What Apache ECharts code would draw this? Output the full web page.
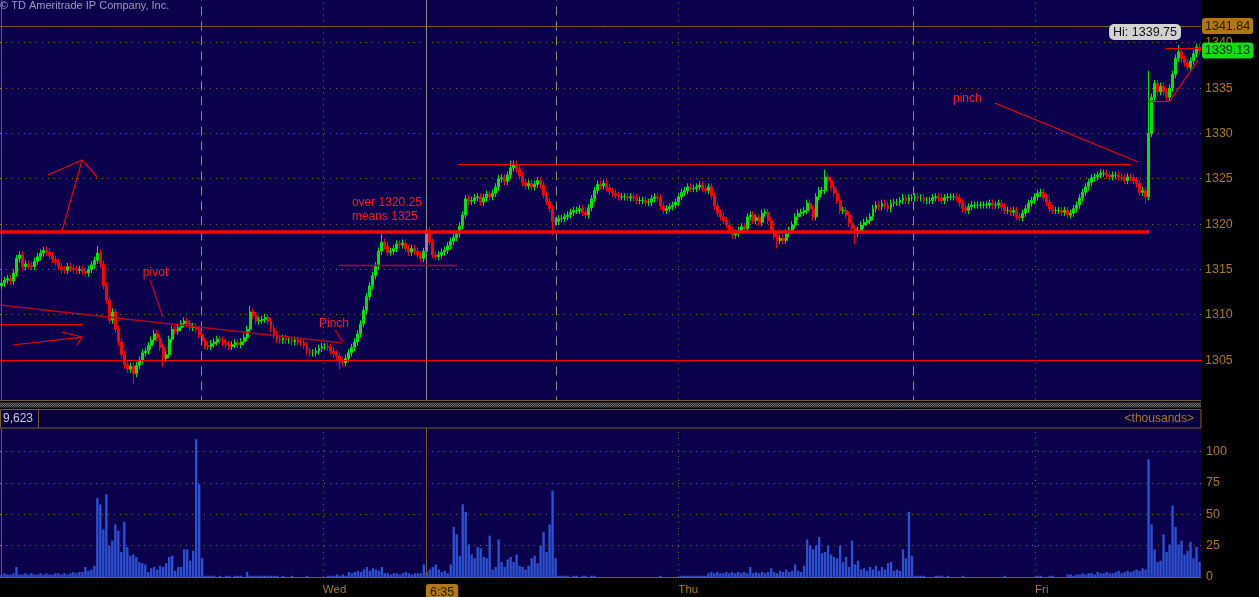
<!DOCTYPE html>
<html>
<head>
<meta charset="UTF-8">
<title>ES futures - 3 day</title>
<script src="https://cdn.jsdelivr.net/npm/echarts@6/dist/echarts.min.js"></script>
<style>
  html, body { margin: 0; padding: 0; background: #000; }
  #chart { width: 1259px; height: 597px; }
</style>
</head>
<body>
<div id="chart"></div>
<script>
// closing price of each bar, left to right
const closes = [
  1313.5,1313.8,1314.0,1313.7,1314.6,1316.2,1316.6,1315.3,1315.6,1315.4,
  1315.3,1315.9,1316.4,1316.8,1317.1,1316.9,1316.5,1316.1,1315.8,1315.3,
  1315.0,1314.9,1315.3,1315.1,1315.0,1314.9,1315.0,1314.8,1314.6,1315.0,
  1315.5,1316.0,1316.8,1315.6,1313.2,1311.6,1309.4,1310.3,1308.4,1307.0,
  1305.6,1304.5,1304.0,1304.3,1303.5,1304.4,1305.0,1305.8,1306.0,1306.6,
  1307.2,1307.9,1307.4,1306.4,1305.2,1305.6,1307.3,1308.4,1308.2,1308.6,
  1309.0,1309.3,1309.0,1308.6,1308.7,1308.4,1307.8,1307.1,1306.6,1306.5,
  1306.8,1307.0,1307.3,1307.2,1306.9,1306.7,1306.5,1306.7,1306.9,1306.7,
  1307.0,1307.5,1308.4,1310.3,1309.9,1309.3,1309.4,1309.5,1309.7,1309.3,
  1308.5,1307.8,1307.3,1307.2,1307.4,1307.2,1307.2,1307.0,1307.2,1307.0,
  1306.9,1306.6,1306.0,1305.8,1305.8,1306.0,1306.3,1306.5,1306.5,1306.4,
  1306.0,1305.7,1305.4,1304.8,1304.7,1305.2,1305.8,1306.4,1307.0,1307.9,
  1309.0,1310.5,1312.0,1313.2,1314.3,1315.4,1317.0,1318.0,1317.6,1316.9,
  1317.0,1317.3,1317.8,1317.7,1317.9,1317.3,1316.9,1317.3,1317.0,1316.6,
  1316.2,1317.0,1319.3,1318.0,1316.6,1316.4,1316.6,1316.9,1317.1,1317.6,
  1318.1,1318.5,1318.9,1319.8,1321.0,1322.8,1322.5,1322.6,1322.9,1323.0,
  1322.4,1322.9,1323.3,1323.0,1323.4,1324.1,1325.0,1325.1,1324.7,1325.4,
  1326.2,1326.6,1326.1,1325.3,1324.6,1324.2,1324.5,1324.1,1324.4,1324.8,
  1324.3,1323.2,1322.5,1321.7,1320.3,1320.3,1320.6,1320.6,1320.8,1321.0,
  1321.3,1321.5,1321.5,1321.7,1321.3,1321.0,1321.8,1322.8,1323.7,1324.4,
  1324.2,1324.5,1324.0,1323.6,1323.4,1323.2,1323.0,1323.0,1323.0,1322.9,
  1323.0,1322.9,1322.6,1322.6,1322.6,1322.4,1322.4,1322.8,1323.0,1322.9,
  1322.0,1321.5,1321.7,1321.9,1322.1,1322.4,1323.0,1323.5,1323.7,1324.1,
  1323.9,1323.9,1324.1,1324.3,1323.9,1323.7,1324.1,1323.1,1322.0,1321.2,
  1320.8,1320.4,1319.9,1319.3,1318.8,1319.0,1319.3,1319.7,1319.5,1320.8,
  1321.0,1320.4,1320.7,1320.2,1321.2,1321.3,1320.4,1319.3,1318.6,1318.2,
  1318.4,1318.2,1319.0,1319.3,1319.9,1320.8,1321.2,1321.3,1321.5,1322.3,
  1321.7,1320.8,1323.0,1323.7,1323.7,1325.2,1324.8,1324.1,1323.4,1322.6,
  1321.5,1321.5,1321.0,1320.1,1319.5,1319.0,1319.3,1319.9,1320.2,1320.4,
  1320.8,1321.7,1322.1,1321.9,1322.3,1322.1,1321.7,1322.3,1322.4,1322.4,
  1322.6,1322.9,1322.6,1322.9,1322.9,1323.0,1322.9,1322.9,1322.6,1322.6,
  1322.6,1322.9,1323.0,1322.9,1322.6,1322.9,1323.0,1323.0,1323.0,1322.9,
  1322.3,1321.7,1321.5,1321.9,1322.1,1322.1,1322.1,1322.1,1322.1,1322.1,
  1322.3,1322.1,1322.1,1322.3,1321.9,1321.5,1321.5,1321.3,1321.5,1320.8,
  1320.7,1321.2,1321.7,1322.3,1322.6,1323.0,1323.4,1323.5,1322.9,1322.4,
  1321.7,1321.5,1321.5,1321.5,1321.3,1321.5,1321.0,1321.2,1321.7,1322.1,
  1322.9,1323.5,1324.1,1324.6,1325.1,1325.2,1325.4,1325.6,1325.6,1325.4,
  1325.2,1325.4,1325.4,1325.2,1325.1,1324.8,1325.2,1325.1,1324.8,1324.5,
  1323.5,1323.7,1323.0,1330.0,1334.0,1335.5,1334.6,1335.2,1334.6,1334.0,
  1335.0,1336.5,1338.3,1339.0,1338.2,1337.8,1337.3,1338.0,1338.8,1339.5,
  1339.13
];
const firstOpen = 1313.2;
// bars whose wick reaches well past the body: [bar, price]
const spikeHighs = [[32,1317.6],[83,1311.0],[127,1318.9],[142,1320.4],[170,1327.0],[275,1326.0],[383,1336.9],[393,1339.75]];
const spikeLows = [[44,1302.4],[54,1304.3],[113,1304.0],[184,1318.8],[259,1317.3],[285,1317.8],[382,1322.2]];

// volume per bar, thousands
const volumes = [
  2,3,2,2,3,8,2,2,3,2,
  3,2,2,3,2,3,2,2,3,3,
  2,3,2,3,4,3,4,4,8,5,
  6,9,63,58,38,66,25,29,42,37,
  20,44,24,17,18,16,12,11,10,4,
  7,8,6,9,8,11,16,17,5,8,
  8,22,22,13,21,110,74,15,1,1,
  1,1,0,1,0,1,1,0,1,1,
  1,0,4,1,1,1,1,1,1,1,
  1,1,1,0,1,0,0,1,0,0,
  0,0,1,0,0,0,0,0,0,1,
  1,1,2,1,2,1,4,3,4,5,
  4,6,8,5,7,6,5,8,3,3,
  2,3,3,2,3,4,3,2,3,3,
  3,10,4,6,8,10,6,4,5,3,
  10,40,34,17,58,52,26,18,15,24,
  23,16,15,33,6,8,30,12,8,14,
  16,12,18,9,8,6,9,15,17,11,
  25,36,20,42,69,15,1,1,1,1,
  0,1,1,0,1,1,0,1,1,0,
  0,0,0,0,0,0,0,0,0,0,
  0,0,0,0,0,0,0,0,0,0,
  1,0,0,0,0,0,0,1,1,1,
  1,1,1,1,1,1,3,4,3,4,
  3,3,4,3,4,3,4,3,4,3,
  8,3,4,3,4,3,4,7,4,3,
  5,4,6,4,5,10,5,4,9,30,
  25,22,25,32,19,20,25,18,16,15,
  25,12,16,8,29,10,13,6,7,5,
  8,6,9,5,8,6,11,12,5,6,
  5,22,15,52,17,1,1,1,1,0,
  0,0,1,1,1,0,1,0,0,0,
  0,1,0,0,0,0,0,0,0,0,
  0,0,0,0,0,1,0,0,0,0,
  0,0,0,0,0,0,1,1,0,0,
  1,1,0,0,0,0,2,2,1,2,
  2,3,2,3,3,2,4,3,3,4,
  3,3,4,5,3,4,5,4,5,6,
  5,7,6,94,42,22,12,13,34,20,
  26,57,40,26,29,18,21,28,15,24,
  12
];

// time markers, in bar units
const dayBreaks = [107.3, 226.0, 345.1];
const dayNames = ['Wed', 'Thu', 'Fri'];
const sessionBreaks = [66.6, 185.1, 304.4];
const cursorAt = 141.7;
const cursorLabel = '6:35';

const levelPrice = 1341.84;
const lastPrice = 1339.13;
const hiPrice = 1339.75;
const hiAt = 393.5;
const volumeNow = '9,623';

// hand drawn study lines: [bar0, price0, bar1, price1]
const keyLevel = [-0.5, 1319.1, 383.1, 1319.1];
const floorLevel = 1305.0;
const brightLines = [
  [152.4, 1326.62, 377.1, 1326.62],
  [20.2, 1319.23, 26.9, 1327.07],
  [15.5, 1325.41, 26.9, 1327.07],
  [26.9, 1327.07, 31.9, 1325.19],
  [-0.5, 1309.0, 27.2, 1309.0],
  [3.8, 1306.66, 26.9, 1307.54],
  [20.2, 1308.1, 26.9, 1307.54],
  [25.2, 1306.66, 26.9, 1307.54],
  [331.7, 1333.35, 379.5, 1326.84],
  [388.5, 1339.42, 400.2, 1339.42],
  [382.8, 1333.57, 390.1, 1333.57],
  [390.1, 1333.57, 399.5, 1338.09]
];
const darkLines = [
  [-0.5, 1311.07, 113.7, 1306.88],
  [49.6, 1313.83, 53.9, 1309.75],
  [111.4, 1308.31, 114.0, 1306.99],
  [112.7, 1315.48, 152.1, 1315.48]
];
const notes = [
  ['pivot', 47.2, 1314.6],
  ['Pinch', 106.0, 1309.0],
  ['over 1320.25', 117.0, 1322.32],
  ['means 1325', 117.0, 1320.78],
  ['pinch', 317.7, 1333.79]
];

const BROWN = '#a8782e';
const DOTS = '#8a6420';
const AXIS = '#7a5a30';
const NAVY = '#0b004b';
const RED = '#ff0000';
const DARKRED = '#b4001c';
const FONT = 'Liberation Sans';

const chart = echarts.init(document.getElementById('chart'));

const candles = closes.map((c, i) => {
  const o = i === 0 ? firstOpen : closes[i - 1];
  return [o, c, Math.min(o, c) - 0.4, Math.max(o, c) + 0.4];
});
spikeHighs.forEach(([i, h]) => { candles[i][3] = h; });
spikeLows.forEach(([i, l]) => { candles[i][2] = l; });
const barIds = closes.map((_, i) => String(i));

function seg(s, style) {
  return [{ coord: [s[0], s[1]], lineStyle: style }, { coord: [s[2], s[3]] }];
}

// checkered strip between the panels
const tile = document.createElement('canvas');
tile.width = 2; tile.height = 2;
const tctx = tile.getContext('2d');
tctx.fillStyle = '#2a2a2a'; tctx.fillRect(0, 0, 2, 2);
tctx.fillStyle = '#6a6a6a'; tctx.fillRect(0, 0, 1, 1); tctx.fillRect(1, 1, 1, 1);

const boxLabel = (text, bg, fg) => ({
  show: true, position: 'end', distance: 1, formatter: text,
  backgroundColor: bg, color: fg, borderRadius: 3, padding: [2, 3, 1, 3],
  fontFamily: FONT, fontSize: 12.5
});

const priceMarks = [
  ...sessionBreaks.map(v => ({ xAxis: v, lineStyle: { color: '#8c8c8c', type: [9, 6], width: 1 } })),
  ...dayBreaks.map(v => ({ xAxis: v, lineStyle: { color: DOTS, type: [1, 5], width: 1 } })),
  { xAxis: cursorAt, lineStyle: { color: '#8c8c8c', type: 'solid', width: 1 } },
  { yAxis: levelPrice, lineStyle: { color: AXIS, type: 'solid', width: 1 },
    label: boxLabel(levelPrice.toFixed(2), '#b07814', '#2a1800') },
  { yAxis: lastPrice, lineStyle: { color: 'rgba(0,0,0,0)', width: 0 },
    label: boxLabel(lastPrice.toFixed(2), '#12dc12', '#062006') },
  { yAxis: floorLevel, lineStyle: { color: RED, type: 'solid', width: 1.2 } },
  seg(keyLevel, { color: RED, type: 'solid', width: 3.5 }),
  ...brightLines.map(s => seg(s, { color: '#f00000', type: 'solid', width: 1.2 })),
  ...darkLines.map(s => seg(s, { color: DARKRED, type: 'solid', width: 1.4 }))
];

const option = {
  backgroundColor: '#000',
  animation: false,
  grid: [
    { left: 0, right: 58, top: -2.6, height: 408, show: true, backgroundColor: NAVY, borderWidth: 0,
      containLabel: false, outerBoundsMode: 'none' },
    { left: 0, right: 58, top: 420.4, height: 156.6, show: true, backgroundColor: NAVY, borderWidth: 0,
      containLabel: false, outerBoundsMode: 'none' }
  ],
  xAxis: [
    { type: 'category', gridIndex: 0, data: barIds, show: false, position: 'bottom' },
    { type: 'category', gridIndex: 1, data: barIds, show: false, position: 'top' },
    { type: 'value', gridIndex: 0, min: -0.5, max: 400.5, show: false, position: 'top' },
    {
      type: 'value', gridIndex: 1, min: -0.5, max: 400.5, position: 'bottom',
      axisLine: { show: true, lineStyle: { color: AXIS } },
      axisTick: { show: false },
      splitLine: { show: false },
      axisLabel: {
        customValues: [...dayBreaks, cursorAt],
        align: 'left', margin: 7, color: BROWN, fontFamily: FONT, fontSize: 11.5,
        formatter: v => v === cursorAt ? '{t|' + cursorLabel + '}' : dayNames[dayBreaks.indexOf(v)],
        rich: { t: { backgroundColor: '#b07814', color: '#2a1800', borderRadius: 3,
          padding: [2, 4, 1, 4], fontFamily: FONT, fontSize: 12.5 } }
      }
    }
  ],
  yAxis: [
    {
      type: 'value', gridIndex: 0, position: 'right', min: 1300, max: 1345, interval: 5,
      axisLine: { show: true, lineStyle: { color: AXIS } },
      axisTick: { show: true, inside: true, length: 5, lineStyle: { color: BROWN } },
      axisLabel: { color: BROWN, fontFamily: FONT, fontSize: 12.5, margin: 4,
        showMinLabel: false, showMaxLabel: false, formatter: v => String(v) },
      splitLine: { lineStyle: { color: DOTS, type: [1, 5] } }
    },
    {
      type: 'value', gridIndex: 1, position: 'right', min: 0, max: 125, interval: 25,
      axisLine: { show: true, lineStyle: { color: AXIS } },
      axisTick: { show: true, inside: true, length: 5, lineStyle: { color: BROWN } },
      axisLabel: { color: BROWN, fontFamily: FONT, fontSize: 12.5, margin: 5, showMaxLabel: false },
      splitLine: { lineStyle: { color: DOTS, type: [1, 5] } }
    }
  ],
  series: [
    {
      type: 'candlestick', xAxisIndex: 0, yAxisIndex: 0, data: candles, barWidth: 2.4,
      itemStyle: { color: '#00e400', color0: '#ff0000', borderColor: '#00e400', borderColor0: '#ff0000', borderWidth: 1 }
    },
    {
      type: 'bar', xAxisIndex: 1, yAxisIndex: 1, data: volumes, barWidth: 2.4,
      itemStyle: { color: '#2c50d0' }
    },
    {
      type: 'line', xAxisIndex: 2, yAxisIndex: 0, data: [], silent: true,
      markLine: { symbol: 'none', silent: true, animation: false, label: { show: false }, data: priceMarks },
      markPoint: {
        symbol: 'circle', symbolSize: 0, silent: true, animation: false,
        label: { show: true, position: 'right', distance: 0, color: '#ff1a1a', fontFamily: FONT, fontSize: 12,
          formatter: p => p.name },
        data: [
          ...notes.map(([t, x, y]) => ({ name: t, coord: [x, y] })),
          {
            name: 'Hi: ' + hiPrice.toFixed(2), coord: [hiAt, hiPrice],
            label: { position: 'top', distance: 5, offset: [-35, 0], color: '#111', backgroundColor: '#d2d2d2',
              borderRadius: 5, padding: [2, 4, 1, 4], fontSize: 12.5 }
          }
        ]
      }
    },
    {
      type: 'line', xAxisIndex: 3, yAxisIndex: 1, data: [], silent: true,
      markLine: {
        symbol: 'none', silent: true, animation: false, label: { show: false },
        data: [
          ...dayBreaks.map(v => ({ xAxis: v, lineStyle: { color: DOTS, type: [1, 5], width: 1 } })),
          { xAxis: cursorAt, lineStyle: { color: AXIS, type: 'solid', width: 1 } }
        ]
      }
    }
  ],
  graphic: [
    { type: 'rect', z: 100, shape: { x: 0, y: 400, width: 1201, height: 9 }, style: { fill: '#000' } },
    { type: 'rect', z: 101, shape: { x: 0, y: 402.5, width: 1201, height: 5 }, style: { fill: { image: tile, repeat: 'repeat' } } },
    { type: 'line', z: 102, shape: { x1: 0, y1: 400.5, x2: 1201, y2: 400.5 }, style: { stroke: AXIS, lineWidth: 1 } },
    { type: 'rect', z: 100, shape: { x: 0.5, y: 409.5, width: 1200.5, height: 18.5 }, style: { fill: '#07033a', stroke: AXIS, lineWidth: 1 } },
    { type: 'line', z: 102, shape: { x1: 38.5, y1: 409.5, x2: 38.5, y2: 428 }, style: { stroke: AXIS, lineWidth: 1 } },
    { type: 'text', z: 102, x: 3, y: 418.5, style: { text: volumeNow, fill: '#c8c8d2', font: '12px "Liberation Sans"', verticalAlign: 'middle' } },
    { type: 'text', z: 102, x: 1194, y: 418.5, style: { text: '<thousands>', fill: BROWN, font: '12px "Liberation Sans"', align: 'right', verticalAlign: 'middle' } },
    { type: 'text', z: 102, x: 0, y: 6, style: { text: '\u00a9 TD Ameritrade IP Company, Inc.', fill: '#9a9ab4', font: '11px "Liberation Sans"', verticalAlign: 'middle' } }
  ]
};

chart.setOption(option);
window.addEventListener('resize', () => chart.resize());
</script>
</body>
</html>
